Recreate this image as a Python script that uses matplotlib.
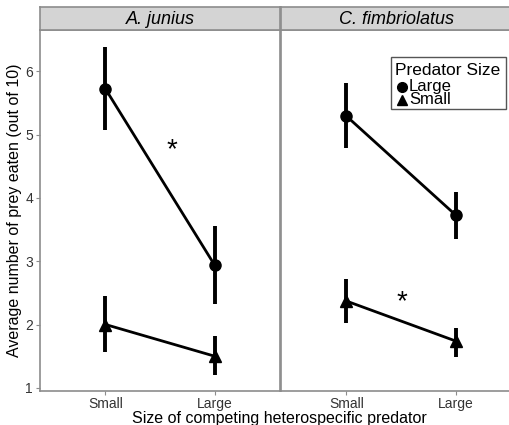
import matplotlib
matplotlib.use("Agg")
import matplotlib.pyplot as plt
from matplotlib.patches import Rectangle

plt.rcParams['font.family'] = ['Liberation Sans', 'DejaVu Sans']

species = ["A. junius", "C. fimbriolatus"]
competitor = ["Small", "Large"]
pred_sizes = ["Large", "Small"]

# means[species][pred_size] over competitor Small, Large
means = {
    "A. junius": {"Large": [5.72, 2.94], "Small": [2.00, 1.50]},
    "C. fimbriolatus": {"Large": [5.29, 3.73], "Small": [2.37, 1.74]},
}
lower = {
    "A. junius": {"Large": [5.07, 2.32], "Small": [1.57, 1.21]},
    "C. fimbriolatus": {"Large": [4.79, 3.35], "Small": [2.03, 1.49]},
}
upper = {
    "A. junius": {"Large": [6.38, 3.55], "Small": [2.45, 1.82]},
    "C. fimbriolatus": {"Large": [5.81, 4.09], "Small": [2.72, 1.95]},
}
star_x = {"A. junius": 1.61, "C. fimbriolatus": 1.51}
star_y = {"A. junius": 4.75, "C. fimbriolatus": 2.35}
yticks = [1, 2, 3, 4, 5, 6]

markers = {"Large": "o", "Small": "^"}

W, H = 510, 425
fig = plt.figure(figsize=(W / 100, H / 100), dpi=100)

panel_left = [40, 281]
panel_w = 240
p_top, p_bot = 30, 391
strip_top = 7

border_col = "#8c8c8c"
for i, sp in enumerate(species):
    ax = fig.add_axes([panel_left[i] / W, 1 - p_bot / H, panel_w / W, (p_bot - p_top) / H])
    xs = [1, 2]
    for ps in pred_sizes:
        m = means[sp][ps]
        lo = lower[sp][ps]
        hi = upper[sp][ps]
        ax.plot(xs, m, color="black", lw=2.0, zorder=2)
        ax.vlines(xs, lo, hi, color="black", lw=2.8, zorder=2)
        ax.plot(xs, m, linestyle="none", marker=markers[ps], color="black",
                markersize=8 if ps == "Large" else 8.5, zorder=3)
    ax.text(star_x[sp], star_y[sp], "*", fontsize=20, ha="center", va="center")
    ax.set_xlim(0.4, 2.6)
    ax.set_ylim(0.95, 6.65)
    ax.set_xticks(xs)
    ax.set_xticklabels(competitor, fontsize=10, color="#333333")
    ax.set_yticks(yticks)
    ax.tick_params(axis="both", length=3, width=0.8, color=border_col, pad=2)
    ax.tick_params(axis="x", pad=1)
    if i == 0:
        ax.set_yticklabels([str(t) for t in yticks], fontsize=10, color="#333333")
        ax.set_ylabel("Average number of prey eaten (out of 10)", fontsize=11.5, labelpad=2)
    else:
        ax.set_yticklabels([])
        ax.tick_params(axis="y", length=0)
    for s in ax.spines.values():
        s.set_color(border_col)
        s.set_linewidth(1.2)
    ax.set_facecolor("white")

    sax = fig.add_axes([panel_left[i] / W, 1 - p_top / H, panel_w / W, (p_top - strip_top) / H])
    sax.set_facecolor("#d4d4d4")
    sax.set_xticks([])
    sax.set_yticks([])
    for s in sax.spines.values():
        s.set_color(border_col)
        s.set_linewidth(1.2)
    sax.text(0.5 if i == 0 else 0.48, 0.45, sp, style="italic", fontsize=13,
             ha="center", va="center", transform=sax.transAxes)

    if i == 1:
        # manual legend (pixel layout converted to axes fraction)
        def fx(px):
            return (px - panel_left[1]) / panel_w
        def fy(py):
            return (p_bot - py) / (p_bot - p_top)
        ax.add_patch(Rectangle((fx(391), fy(109)), fx(506) - fx(391), fy(57) - fy(109),
                               transform=ax.transAxes, facecolor="white",
                               edgecolor="#555555", lw=1.0, zorder=4, clip_on=False))
        ax.text(fx(395), fy(70), "Predator Size", fontsize=12.5, ha="left", va="center",
                transform=ax.transAxes, zorder=5)
        for ps, py in zip(pred_sizes, [86, 99]):
            ax.plot([fx(402)], [fy(py + 1)], marker=markers[ps], color="black",
                    markersize=7, transform=ax.transAxes, zorder=5, clip_on=False)
            ax.text(fx(409), fy(py), ps, fontsize=12, ha="left", va="center",
                    transform=ax.transAxes, zorder=5)

fig.text(279 / W, 1 - 418 / H, "Size of competing heterospecific predator", fontsize=11.5,
         ha="center", va="center")

fig.savefig("out.png", dpi=100)
